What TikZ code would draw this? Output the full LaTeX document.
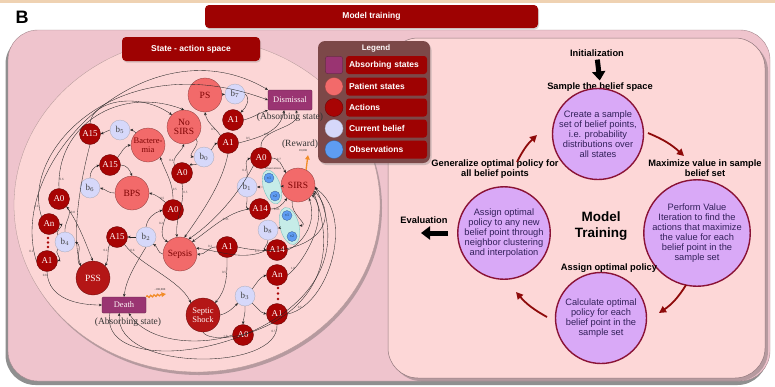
\documentclass[tikz,border=0pt]{standalone}
\usepackage{fontspec}
\setmainfont{Liberation Serif}
\setsansfont{Liberation Sans}
\usetikzlibrary{shadows,arrows.meta,shapes.geometric,decorations.pathmorphing}

\definecolor{topline}{HTML}{EFD2B2}
\definecolor{panelpink}{HTML}{EFC4CD}
\definecolor{circpink}{HTML}{FCD6D6}
\definecolor{rightpink}{HTML}{FDD7D7}
\definecolor{bannerred}{HTML}{9E0202}
\definecolor{legendbrown}{HTML}{7C4848}
\definecolor{absp}{HTML}{9A3472}
\definecolor{patpink}{HTML}{F26A6A}
\definecolor{actred}{HTML}{A80404}
\definecolor{gravered}{HTML}{B41616}
\definecolor{belblue}{HTML}{D6D8FA}
\definecolor{obsblue}{HTML}{5E9CF2}
\definecolor{bubblefill}{HTML}{C6ECE8}
\definecolor{procfill}{HTML}{D9A9F7}
\definecolor{procedge}{HTML}{8A1236}
\definecolor{proctext}{HTML}{32205A}
\definecolor{flowred}{HTML}{8E0A0A}
\definecolor{rewardorange}{HTML}{F28C28}

\begin{document}
\begin{tikzpicture}[x=1pt,y=1pt,
  banner/.style={fill=bannerred, rounded corners=4pt, text=white, inner sep=0pt,
    font=\sffamily\bfseries\fontsize{8.5}{9}\selectfont},
  act/.style={circle, fill=actred, draw=actred!55!black, line width=0.3pt,
    minimum size=21pt, inner sep=0pt, text=white!88!pink,
    font=\fontsize{9}{9}\selectfont},
  pat/.style={circle, fill=patpink, draw=patpink!55!black, line width=0.3pt,
    minimum size=34pt, inner sep=0pt, align=center, text=actred!75!black,
    font=\fontsize{9.5}{9.5}\selectfont},
  grave/.style={pat, fill=gravered, draw=gravered!55!black, text=white!85!pink},
  bel/.style={circle, fill=belblue, draw=belblue!45!gray, line width=0.3pt,
    minimum size=20pt, inner sep=0pt, text=black!75, font=\fontsize{9}{9}\selectfont},
  obs/.style={circle, fill=obsblue, draw=obsblue!55!black, line width=0.25pt,
    minimum size=10pt, inner sep=0pt, text=obsblue!30!black,
    font=\fontsize{4}{4}\selectfont},
  bubble/.style={ellipse, fill=bubblefill, draw=bubblefill!55!teal, line width=0.3pt,
    inner sep=0pt},
  absorb/.style={rectangle, fill=absp, draw=absp!55!black, line width=0.3pt,
    minimum width=44pt, rounded corners=1pt, inner sep=0pt, text=white!85!pink,
    font=\fontsize{8.5}{8.5}\selectfont},
  note/.style={inner sep=0pt, text=black!80, font=\fontsize{9.5}{10}\selectfont},
  tiny/.style={inner sep=0pt, text=black!80, font=\fontsize{3}{3}\selectfont},
  lab/.style={inner sep=0.4pt, text=black!75, font=\fontsize{3.2}{3.2}\selectfont},
  e/.style={draw=black!85, line width=0.35pt, -{Stealth[length=3pt,width=2.6pt]}},
  reddot/.style={circle, fill=actred, inner sep=0pt, minimum size=2.6pt},
  proc/.style={circle, fill=procfill, draw=procedge, line width=1.4pt,
    minimum size=91pt, inner sep=0pt, align=center, text=proctext,
    font=\sffamily\fontsize{9.3}{9.9}\selectfont},
  head/.style={inner sep=0pt, align=center,
    font=\sffamily\bfseries\fontsize{9.3}{10}\selectfont},
  flow/.style={draw=flowred, line width=1.8pt, -{Triangle[length=7pt,width=7pt]}},
  bigarrow/.style={draw=black, line width=5pt, -{Triangle[length=9pt,width=13pt]}},
  legtext/.style={fill=bannerred, rounded corners=3pt, minimum height=18pt,
    text width=75pt, inner xsep=3pt, inner ysep=0pt, text=white,
    font=\sffamily\bfseries\fontsize{8.5}{9}\selectfont},
  swatch/.style={circle, minimum size=18pt, inner sep=0pt, line width=0.3pt},
  reward/.style={draw=rewardorange, line width=1.3pt,
    -{Triangle[length=4.5pt,width=4.5pt]}},
  softshadow/.style={drop shadow={shadow xshift=-2.5pt, shadow yshift=-4pt,
    opacity=0.55, fill=black!80}}
]
\useasboundingbox (0,0) rectangle (775,-386);
\fill[white] (0,0) rectangle (775,-386);
\fill[topline] (0,0) rectangle (775,-2.5);

% panel label and title bar
\node[font=\sffamily\bfseries\fontsize{18}{18}\selectfont] (tagB) at (22,-17) {B};
\node[banner, minimum width=333pt, minimum height=23pt,
  drop shadow={shadow xshift=1pt, shadow yshift=-1.5pt, opacity=0.3}]
  (mtbar) at (371.5,-16.5) {Model training};

% outer panel
\path[fill=panelpink, draw=panelpink!70!black, line width=0.4pt,
  rounded corners=30pt, softshadow] (8,-30) rectangle (770,-381);

% state-action space disc
\path[fill=circpink, draw=circpink!70!black, line width=0.3pt,
  drop shadow={shadow xshift=2pt, shadow yshift=-3pt, opacity=0.35, fill=black!70}]
  (197,-205) ellipse [x radius=183, y radius=167];
\node[banner, minimum width=138pt, minimum height=24pt,
  drop shadow={shadow xshift=1pt, shadow yshift=-1.5pt, opacity=0.3}]
  (sabar) at (191,-49) {State - action space};

% training panel
\path[fill=rightpink, draw=panelpink!60!black, line width=0.5pt,
  rounded corners=30pt,
  drop shadow={shadow xshift=3pt, shadow yshift=-3pt, opacity=0.35, fill=black!70}]
  (388,-38) rectangle (765,-378);

% legend
\path[fill=legendbrown, rounded corners=7pt,
  drop shadow={shadow xshift=1.5pt, shadow yshift=-2pt, opacity=0.35}]
  (318,-41) rectangle (430,-163);
\node[font=\sffamily\bfseries\fontsize{8}{8}\selectfont, text=white!90!pink]
  (lgt) at (376,-48) {Legend};
\node[fill=absp, draw=absp!55!black, rounded corners=2pt, minimum size=17pt,
  inner sep=0pt, line width=0.3pt] (sw1) at (334,-65) {};
\node[swatch, fill=patpink, draw=patpink!60!black] (sw2) at (334,-86.5) {};
\node[swatch, fill=actred, draw=actred!60!black] (sw3) at (334,-107.5) {};
\node[swatch, fill=belblue, draw=belblue!50!gray] (sw4) at (334,-128.5) {};
\node[swatch, fill=obsblue, draw=obsblue!60!black] (sw5) at (334,-149.5) {};
\node[legtext] (lt1) at (386.5,-65) {Absorbing states};
\node[legtext] (lt2) at (386.5,-86.5) {Patient states};
\node[legtext] (lt3) at (386.5,-107.5) {Actions};
\node[legtext] (lt4) at (386.5,-128.5) {Current belief};
\node[legtext] (lt5) at (386.5,-149.5) {Observations};

% ---------------- state-action graph ----------------
\node[pat] (PS) at (205,-95) {PS};
\node[bel] (b7) at (235,-94) {b$_7$};
\node[act] (A1a) at (233,-120) {A1};
\node[absorb, minimum height=20pt] (Dis) at (290,-100) {Dismissal};
\node[note] (absDis) at (290,-117) {(Absorbing state)};
\node[pat] (NoSIRS) at (184,-127) {No\\SIRS};
\node[act] (A1b) at (228,-143) {A1};
\node[bel] (b0) at (204,-157) {b$_0$};
\node[act] (A0b) at (182,-173) {A0};
\node[act] (A15a) at (90,-134) {A15};
\node[bel] (b5) at (120,-130) {b$_5$};
\node[pat, font=\fontsize{8.5}{9}\selectfont] (Bact) at (148,-145) {Bactere-\\mia};
\node[act] (A15b) at (110,-165) {A15};
\node[bel] (b6) at (90,-188) {b$_6$};
\node[pat] (BPS) at (132,-193) {BPS};
\node[act] (A0c) at (173,-210) {A0};
\node[act] (A0L) at (59,-199) {A0};
\node[act] (AnL) at (49,-224) {An};
\node[bel] (b4) at (65,-242) {b$_4$};
\node[act] (A1L) at (47,-261) {A1};
\node[reddot] (dl1) at (48,-238) {};
\node[reddot] (dl2) at (48,-242.5) {};
\node[reddot] (dl3) at (48,-247) {};
\node[act] (A15c) at (117,-237) {A15};
\node[bel] (b2) at (146,-237) {b$_2$};
\node[pat] (Sepsis) at (180,-254) {Sepsis};
\node[grave] (PSS) at (93,-278) {PSS};
\node[absorb, minimum height=16pt] (Death) at (124,-305) {Death};
\node[note] (absDeath) at (128,-322) {(Absorbing state)};
\node[grave, font=\fontsize{8.5}{9}\selectfont] (SS) at (203,-315) {Septic\\Shock};
\node[bel] (b3) at (245,-296) {b$_3$};
\node[act] (AnR) at (277,-275) {An};
\node[reddot] (dr1) at (278,-288) {};
\node[reddot] (dr2) at (278,-293.5) {};
\node[reddot] (dr3) at (278,-299) {};
\node[act] (A1R) at (277,-314) {A1};
\node[act] (A0R) at (243,-335) {A0};
\node[pat] (SIRS) at (298,-185) {SIRS};
\node[bel] (b1) at (247,-187) {b$_1$};
\node[act] (A0r) at (261,-158) {A0};
\node[bubble, minimum width=35pt, minimum height=17pt, rotate=-72] (bub1) at (272,-187) {};
\node[obs] (v1a) at (269,-178) {v1};
\node[obs] (v2a) at (275,-196) {v2};
\node[tiny] (obsname) at (273,-168.5) {Observations};
\node[act] (A14a) at (260,-209) {A14};
\node[bel] (b8) at (268,-230) {b$_8$};
\node[bubble, minimum width=38pt, minimum height=19pt, rotate=-76] (bub2) at (289.5,-226) {};
\node[obs] (v1b) at (287,-215.5) {v1};
\node[obs] (v2b) at (292,-236.5) {v2};
\node[act] (A14b) at (277,-250) {A14};
\node[act] (A1m) at (227,-247) {A1};

% rewards
\node[note] (rwtext) at (300,-144) {(Reward)};
\node[tiny] (rwval) at (303,-151) {10,000};
\coordinate (rw) at (308,-155);
\draw[reward] (SIRS.62) -- (rw);
\node[tiny] (dwval) at (160,-289.5) {-100,000};
\coordinate (dw) at (166,-294);
\draw[reward, decorate, decoration={snake, amplitude=0.9pt, segment length=3.5pt,
  post length=4pt}] (Death.north east) -- (dw);

% PS / No SIRS transitions
\draw[e] (PS) -- (b7);
\draw[e] (b7.east) to[out=-40,in=40] (A1a.north east);
\draw[e] (A1a.east) to[out=15,in=200] (Dis.south west);
\draw[e] (A1b.north west) to[out=125,in=-80] node[lab,pos=0.25,left]{0.5} (PS.south);
\draw[e] (A1b.east) to[out=15,in=-100] node[lab,pos=0.15,above]{0.5} (Dis.-120);
\draw[e] (NoSIRS.south east) to[out=-45,in=170] (b0.west);
\draw[e] (b0.north east) to[out=45,in=200] (A1b.west);
\draw[e] (b0.south west) to[out=210,in=30] (A0b.north east);
\draw[e] (A0b.north west) to[out=110,in=-110] node[lab,pos=0.2,left]{0.4} (NoSIRS.south);
\draw[e] (A0b.south) to[out=-80,in=95] node[lab,pos=0.15,right]{0.5} (Sepsis.100);

% Bacteremia / BPS transitions
\draw[e] (Bact.north west) to[out=140,in=0] (b5.east);
\draw[e] (b5.west) -- (A15a.east);
\draw[e] (A15a.north) .. controls (92,-100) and (140,-92) .. (NoSIRS.north west);
\draw[e] (A15a.south) .. controls (78,-190) and (72,-240) .. (PSS.north west);
\draw[e] (A15b.north east) to[out=50,in=190] (Bact.west);
\draw[e] (A15b.east) to[out=0,in=110] (BPS.north);
\draw[e] (BPS.west) to[out=185,in=-15] (b6.east);
\draw[e] (b6.north) to[out=90,in=200] (A15b.west);
\draw[e] (A0c.north west) to[out=140,in=-15] node[lab,pos=0.2,above]{0.5} (BPS.east);
\draw[e] (A0c.north) to[out=90,in=-70] node[lab,pos=0.2,right]{0.5} (Bact.south east);
\draw[e] (A0c.south west) to[out=-110,in=150] node[lab,pos=0.2,left]{0.2} (Sepsis.north west);

% Sepsis transitions
\draw[e] (Sepsis.west) to[out=170,in=-30] (b2.south east);
\draw[e] (b2.west) -- (A15c.east);
\draw[e] (b2.north) to[out=80,in=200] (A0c.west);
\draw[e] (A15c.south west) to[out=-110,in=60] node[lab,pos=0.25,left]{0.2} (PSS.north east);
\draw[e] (A15c.south east) .. controls (140,-265) and (180,-280) .. (SS.north west)
  node[lab,pos=0.1,right]{0.6};
\draw[e] (b2.south) .. controls (135,-265) and (126,-280) .. (Death.north);

% left column transitions
\draw[e] (PSS.north west) to[out=140,in=-30] (b4.east);
\draw[e] (b4.north) to[out=95,in=-50] (A0L.south east);
\draw[e] (b4.north west) to[out=150,in=-20] (AnL.east);
\draw[e] (b4.south west) to[out=-150,in=20] (A1L.east);
\draw[e] (A1L.south) .. controls (48,-300) and (80,-305) .. (Death.west)
  node[lab,pos=0.05,left]{0.8};
\draw[e] (A0L.south east) .. controls (80,-225) and (88,-250) .. (PSS.north)
  node[lab,pos=0.1,right]{0.8};
\draw[e] (A0L.north) .. controls (56,-125) and (120,-85) .. (NoSIRS.north)
  node[lab,pos=0.05,right]{0.6};
\draw[e] (AnL.north west) .. controls (20,-150) and (120,-45) .. (Dis.west)
  node[lab,pos=0.05,left]{0.6};
\draw[e] (A1L.west) .. controls (5,-160) and (150,-20) .. (Dis.north west)
  node[lab,pos=0.03,left]{0.2};

% SIRS transitions
\draw[e] (SIRS) -- (bub1);
\draw[e] (bub1) -- (b1);
\draw[e] (b1.north) to[out=80,in=200] node[lab,pos=0.3,left]{0.2} (A0r.west);
\draw[e] (b1.south) to[out=-80,in=170] (A14a.west);
\draw[e] (A0r.east) to[out=0,in=120] node[lab,pos=0.4,above]{0.7} (SIRS.north west);
\draw[e] (A0r.north) to[out=95,in=-70] node[lab,pos=0.3,left]{0.6} (Dis.-60);
\draw[e] (A14a.east) to[out=0,in=-125] node[lab,pos=0.3,below]{0.05} (SIRS.-130);
\draw[e] (A14a.west) .. controls (228,-212) and (212,-228) .. (Sepsis.north east)
  node[lab,pos=0.4,below]{0.95};
\draw[e] (SIRS.-110) to[out=-100,in=40] (bub2);
\draw[e] (bub2) -- (b8);
\draw[e] (b8.south) to[out=-85,in=170] (A14b.west);
\draw[e] (A14b.east) .. controls (300,-245) and (318,-225) .. (SIRS.-50);
\draw[e] (A14b.west) .. controls (245,-262) and (215,-250) .. (Sepsis.20);
\draw[e] (A1m.west) to[out=175,in=-10] node[lab,pos=0.3,above]{0.2} (Sepsis.east);
\draw[e] (A1m.east) .. controls (305,-262) and (345,-225) .. (SIRS.-20)
  node[lab,pos=0.1,below]{0.5};
\draw[e] (A1m.south) to[out=-90,in=50] node[lab,pos=0.3,left]{0.5} (SS.north east);
\draw[e] (A0r.south west) .. controls (238,-195) and (214,-222) .. (Sepsis.60);
\draw[e] (A1b.south) .. controls (222,-185) and (200,-215) .. (Sepsis.75);

% septic shock transitions
\draw[e] (SS.east) to[out=15,in=-135] (b3.south west);
\draw[e] (b3.north east) to[out=50,in=200] (AnR.west);
\draw[e] (b3.south east) to[out=-40,in=165] (A1R.west);
\draw[e] (b3.south) to[out=-85,in=85] (A0R.north);
\draw[e] (AnR.east) .. controls (305,-262) and (330,-215) .. (SIRS.-35)
  node[lab,pos=0.1,above]{1.0};
\draw[e] (A1R.east) .. controls (330,-305) and (355,-215) .. (SIRS.-10)
  node[lab,pos=0.1,above]{0.5};
\draw[e] (A0R.west) .. controls (205,-345) and (150,-345) .. (Death.-60)
  node[lab,pos=0.05,left]{1.0};
\draw[e] (A1R.south) .. controls (280,-372) and (115,-372) .. (Death.-120)
  node[lab,pos=0.05,left]{0.5};
\draw[e] (Death.-150) .. controls (95,-395) and (390,-340) .. (SIRS.-5);
\draw[e] (SS.south) .. controls (215,-352) and (362,-320) .. (SIRS.-25);

% ---------------- model training cycle ----------------
\node[head] (ini) at (597,-53) {Initialization};
\node[head] (sbs) at (600,-87) {Sample the belief space};
\draw[bigarrow, shorten <=3pt, shorten >=2pt] (ini.south) -- (sbs.north);

\node[proc] (c1) at (598,-134) {Create a sample\\set of belief points,\\i.e. probability\\distributions over\\all states};
\node[proc] (c2) at (697,-233) {Perform Value\\Iteration to find the\\actions that maximize\\the value for each\\belief point in the\\sample set};
\node[proc] (c3) at (601,-318) {Calculate optimal\\policy for each\\belief point in the\\sample set};
\node[proc] (c4) at (504,-233) {Assign optimal\\policy to any new\\belief point through\\neighbor clustering\\and interpolation};

\node[head] (maxv) at (705,-168) {Maximize value in sample\\belief set};
\node[head] (aop) at (609,-268) {Assign optimal policy};
\node[head] (gen) at (495,-169.5) {Generalize optimal policy for\\all belief points};
\node[inner sep=0pt, align=center, font=\sffamily\bfseries\fontsize{13.5}{15.5}\selectfont]
  (mt) at (601,-226) {Model\\Training};
\node[head] (evl) at (424,-220) {Evaluation};

\coordinate (f1a) at (648,-133);
\coordinate (f1b) at (684,-156);
\coordinate (f2a) at (686,-285);
\coordinate (f2b) at (659,-313);
\coordinate (f3a) at (547,-317);
\coordinate (f3b) at (516,-292);
\coordinate (f4a) at (517,-162);
\coordinate (f4b) at (537,-135);
\draw[flow] (f1a) to[bend left=10] (f1b);
\draw[flow] (f2a) to[bend left=12] (f2b);
\draw[flow] (f3a) to[bend left=10] (f3b);
\draw[flow] (f4a) to[bend left=10] (f4b);

\coordinate (evtip) at (421,-233);
\draw[bigarrow, shorten <=9pt] (c4.west) -- (evtip);
\end{tikzpicture}
\end{document}
